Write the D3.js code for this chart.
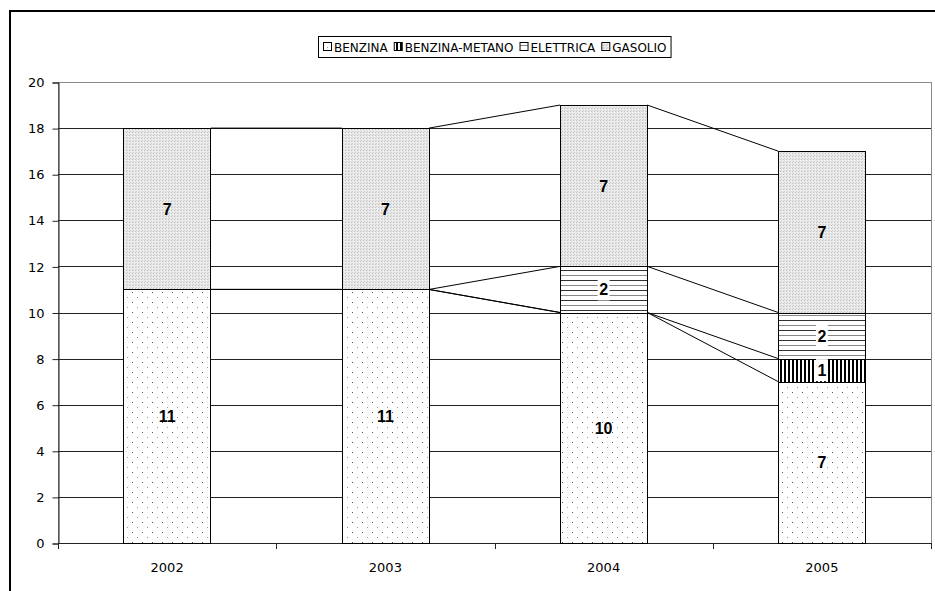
<!DOCTYPE html>
<html>
<head>
<meta charset="utf-8">
<script src="https://cdn.jsdelivr.net/npm/d3@7"></script>
<style>
  body { margin: 0; background: #fff; }
  svg { display: block; }
</style>
</head>
<body>
<svg id="viz" width="935" height="591"></svg>
<script>
var years = ["2002", "2003", "2004", "2005"];
var series = ["BENZINA", "BENZINA-METANO", "ELETTRICA", "GASOLIO"];
var benzina = [11, 11, 10, 7];
var metano = [0, 0, 0, 1];
var elettrica = [0, 0, 2, 2];
var gasolio = [7, 7, 7, 7];
var yTicks = [0, 2, 4, 6, 8, 10, 12, 14, 16, 18, 20];

var rows = years.map(function(y, i) {
    return {year: y, "BENZINA": benzina[i], "BENZINA-METANO": metano[i], "ELETTRICA": elettrica[i], "GASOLIO": gasolio[i]};
});

var svg = d3.select("#viz");
var plotLeft = 58, plotRight = 931, plotTop = 82, plotBottom = 543;

// patterns
var defs = svg.append("defs");
var p1 = defs.append("pattern").attr("id", "p_benzina").attr("patternUnits", "userSpaceOnUse").attr("width", 10).attr("height", 10);
p1.append("rect").attr("width", 10).attr("height", 10).attr("fill", "#fff");
p1.append("rect").attr("x", 2).attr("y", 2).attr("width", 1).attr("height", 1).attr("fill", "#555");
p1.append("rect").attr("x", 7).attr("y", 7).attr("width", 1).attr("height", 1).attr("fill", "#999");

var p2 = defs.append("pattern").attr("id", "p_metano").attr("patternUnits", "userSpaceOnUse").attr("width", 4).attr("height", 4);
p2.append("rect").attr("width", 4).attr("height", 4).attr("fill", "#fff");
p2.append("rect").attr("width", 2).attr("height", 4).attr("fill", "#000");

var p3 = defs.append("pattern").attr("id", "p_elettrica").attr("patternUnits", "userSpaceOnUse").attr("width", 4).attr("height", 10);
p3.append("rect").attr("width", 4).attr("height", 10).attr("fill", "#fff");
p3.append("rect").attr("y", 0).attr("width", 4).attr("height", 1).attr("fill", "#333");
p3.append("rect").attr("y", 5).attr("width", 4).attr("height", 1).attr("fill", "#888");

var p4 = defs.append("pattern").attr("id", "p_gasolio").attr("patternUnits", "userSpaceOnUse").attr("width", 3).attr("height", 3);
p4.append("rect").attr("width", 3).attr("height", 3).attr("fill", "#e8e8e8");
p4.append("rect").attr("width", 1).attr("height", 1).attr("fill", "#c0c0c0");
p4.append("rect").attr("x", 1).attr("y", 2).attr("width", 1).attr("height", 1).attr("fill", "#d0d0d0");
p4.append("rect").attr("x", 2).attr("y", 1).attr("width", 1).attr("height", 1).attr("fill", "#f4f4f4");

var fills = {"BENZINA": "url(#p_benzina)", "BENZINA-METANO": "url(#p_metano)", "ELETTRICA": "url(#p_elettrica)", "GASOLIO": "url(#p_gasolio)"};
var labelBg = {"BENZINA-METANO": true, "ELETTRICA": true};

// outer frame
svg.append("rect").attr("x", 10).attr("y", 11).attr("width", 1000).attr("height", 1000)
    .attr("fill", "none").attr("stroke", "#000").attr("stroke-width", 2);

var x = d3.scaleBand().domain(years).range([plotLeft, plotRight]).paddingInner(0.6).paddingOuter(0.3);
var y = d3.scaleLinear().domain([0, 20]).range([plotBottom, plotTop]);

// plot border (gray)
svg.append("rect").attr("x", plotLeft + 0.5).attr("y", plotTop + 0.5).attr("width", plotRight - plotLeft).attr("height", plotBottom - plotTop)
    .attr("fill", "none").attr("stroke", "#888").attr("stroke-width", 1);

// gridlines
svg.selectAll("line.grid")
    .data(yTicks.filter(function(d) { return d > 0 && d < 20; }))
    .enter()
    .append("line")
    .attr("x1", plotLeft).attr("x2", plotRight)
    .attr("y1", function(d) { return Math.round(y(d)) + 0.5; })
    .attr("y2", function(d) { return Math.round(y(d)) + 0.5; })
    .attr("stroke", "#222");

// y axis
var yAxis = svg.append("g").attr("transform", "translate(" + (plotLeft + 0.5) + ",0.5)")
    .call(d3.axisLeft(y).tickValues(yTicks).tickSize(6).tickPadding(8));
yAxis.select(".domain").attr("stroke", "#222");
yAxis.selectAll(".tick line").attr("stroke", "#222");
yAxis.selectAll("text").attr("font-family", "DejaVu Sans").attr("font-size", 13).attr("fill", "#000");

// x axis with ticks at category boundaries
var xg = svg.append("g");
xg.append("line").attr("x1", plotLeft).attr("x2", plotRight).attr("y1", plotBottom + 0.5).attr("y2", plotBottom + 0.5).attr("stroke", "#222");
var bounds = years.map(function(d) { return x(d) - x.step() * 0.3; });
bounds.push(plotRight);
xg.selectAll("line.xt")
    .data(bounds)
    .enter()
    .append("line")
    .attr("x1", function(d) { return Math.round(d) + 0.5; })
    .attr("x2", function(d) { return Math.round(d) + 0.5; })
    .attr("y1", plotBottom).attr("y2", plotBottom + 6)
    .attr("stroke", "#222");
xg.selectAll("text")
    .data(years)
    .enter()
    .append("text")
    .attr("x", function(d) { return x(d) + x.bandwidth() / 2; })
    .attr("y", 572)
    .attr("text-anchor", "middle")
    .attr("font-family", "DejaVu Sans").attr("font-size", 13)
    .text(function(d) { return d; });

var stacked = d3.stack().keys(series)(rows);

// series lines
stacked.forEach(function(s) {
    for (var j = 0; j < s.length - 1; j++) {
        svg.append("line")
            .attr("x1", x(years[j]) + x.bandwidth())
            .attr("y1", y(s[j][1]))
            .attr("x2", x(years[j + 1]))
            .attr("y2", y(s[j + 1][1]))
            .attr("stroke", "#000").attr("stroke-width", 1);
    }
});

// bars
var groups = svg.selectAll("g.series")
    .data(stacked)
    .enter()
    .append("g")
    .attr("fill", function(d) { return fills[d.key]; });

groups.selectAll("rect")
    .data(function(d) { return d.filter(function(v) { return v[1] - v[0] > 0; }); })
    .enter()
    .append("rect")
    .attr("x", function(d) { return Math.round(x(d.data.year)) + 0.5; })
    .attr("y", function(d) { return Math.round(y(d[1])) + 0.5; })
    .attr("width", Math.round(x.bandwidth()))
    .attr("height", function(d) { return Math.round(y(d[0])) - Math.round(y(d[1])); })
    .attr("stroke", "#000").attr("stroke-width", 1);

// labels
stacked.forEach(function(s) {
    s.forEach(function(v) {
        var val = v[1] - v[0];
        if (val <= 0) return;
        var cx = x(v.data.year) + x.bandwidth() / 2;
        var cy = y((v[0] + v[1]) / 2);
        var g = svg.append("g");
        var t = g.append("text")
            .attr("x", cx).attr("y", cy + 6)
            .attr("text-anchor", "middle")
            .attr("font-family", "Liberation Sans").attr("font-weight", "bold").attr("font-size", 16)
            .text(val);
        if (labelBg[s.key]) {
            var w = t.node().getComputedTextLength() + 3;
            var h = Math.min(22, y(v[0]) - y(v[1]) - 1);
            g.insert("rect", "text")
                .attr("x", cx - w / 2).attr("y", cy - h / 2)
                .attr("width", w).attr("height", h)
                .attr("fill", "#fff");
        }
    });
});

// legend
var leg = svg.append("g");
var legBox = leg.append("rect").attr("x", 318.5).attr("y", 36.5).attr("height", 21)
    .attr("fill", "#fff").attr("stroke", "#000");
var lx = 323;
series.forEach(function(k) {
    leg.append("rect").attr("x", lx + 0.5).attr("y", 42.5).attr("width", 8).attr("height", 8)
        .attr("fill", fills[k]).attr("stroke", "#000");
    var t = leg.append("text").attr("x", lx + 11).attr("y", 51.5)
        .attr("font-family", "DejaVu Sans").attr("font-size", 12)
        .text(k);
    lx += 11 + t.node().getComputedTextLength() + 6;
});
legBox.attr("width", lx - 318 - 2);
</script>
</body>
</html>
